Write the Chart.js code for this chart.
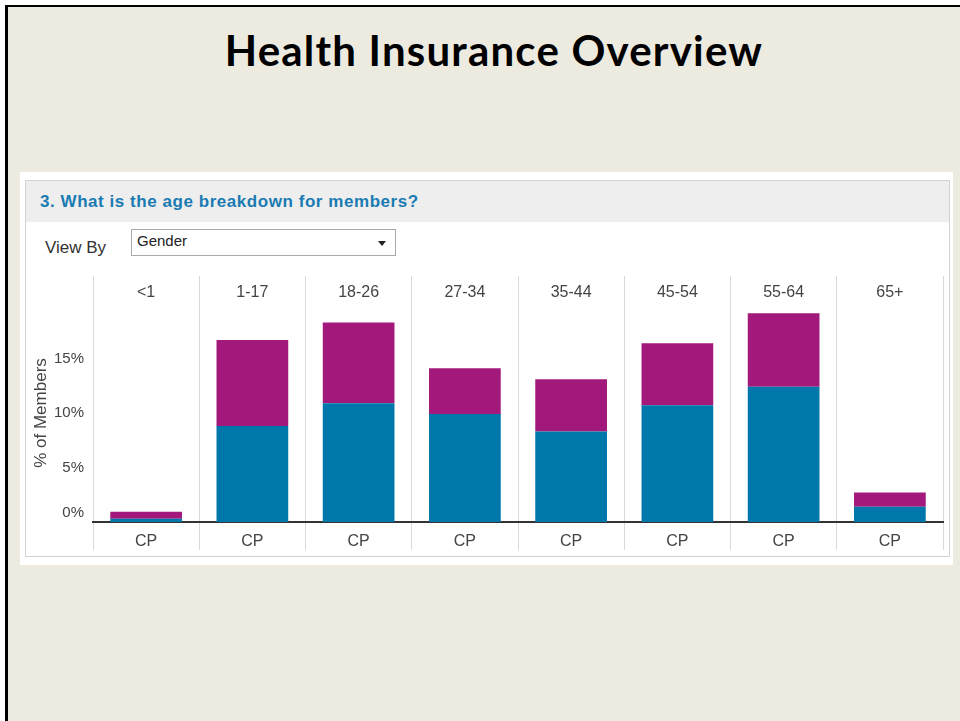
<!DOCTYPE html>
<html>
<head>
<meta charset="utf-8">
<title>Health Insurance Overview</title>
<script src="https://cdn.jsdelivr.net/npm/chart.js@4.4.1/dist/chart.umd.min.js"></script>
<style>
  html, body { margin: 0; padding: 0; width: 960px; height: 721px; overflow: hidden; background: #fff; }
  .slide { position: absolute; left: 5px; top: 5px; width: 1000px; height: 800px; background: #edeae0;
    border-left: 3px solid #000; border-top: 2px solid #000; }
  .title { position: absolute; left: 0; top: 29px; width: 988px; text-align: center;
    font: bold 42px Lato, "Open Sans", sans-serif; line-height: 42px; letter-spacing: 1.2px; color: #000; }
  .panel { position: absolute; left: 20px; top: 172px; width: 933px; height: 393px; background: #fff; }
  .box { position: absolute; left: 25px; top: 180px; width: 923px; height: 375px; border: 1px solid #d2d2d2; }
  .header { position: absolute; left: 26px; top: 181px; width: 923px; height: 41px; background: #eeeeee; }
  .question { position: absolute; left: 40px; top: 181px; height: 42px;
    font: bold 17px "Liberation Sans", Arial, sans-serif; line-height: 42px; letter-spacing: 0.55px;
    color: #1a7bb3; white-space: nowrap; }
  .viewby { position: absolute; left: 45px; top: 238px;
    font: 17px "Liberation Sans", Arial, sans-serif; line-height: 20px; color: #333; }
  .select { position: absolute; left: 131px; top: 229px; width: 263px; height: 25px; border: 1px solid #a9a9a9; background: #fff; }
  .select span { position: absolute; left: 5px; top: 1px;
    font: 15px "Liberation Sans", Arial, sans-serif; line-height: 20px; color: #222; }
  .select i { position: absolute; left: 246px; top: 11px; width: 0; height: 0;
    border-left: 4px solid transparent; border-right: 4px solid transparent; border-top: 5px solid #222; }
  .chart-wrap { position: absolute; left: 30px; top: 276px; width: 918px; height: 274px; }
</style>
</head>
<body>
<div class="slide"></div>
<div class="title">Health Insurance Overview</div>
<div class="panel"></div>
<div class="box"></div>
<div class="header"></div>
<div class="question">3. What is the age breakdown for members?</div>
<div class="viewby">View By</div>
<div class="select"><span>Gender</span><i></i></div>
<div class="chart-wrap"><canvas id="ageChart"></canvas></div>

<script>
// Data chart (persen anggota per kelompok umur)
const ageGroups = ["<1", "1-17", "18-26", "27-34", "35-44", "45-54", "55-64", "65+"];
const planLabels = ["CP", "CP", "CP", "CP", "CP", "CP", "CP", "CP"];
const maleShare = [0.3, 8.8, 10.9, 9.9, 8.3, 10.7, 12.4, 1.4];
const femaleShare = [0.65, 7.9, 7.4, 4.2, 4.8, 5.7, 6.75, 1.3];
const yTickValues = [0, 5, 10, 15];

Chart.defaults.font.family = "'Liberation Sans', Arial, sans-serif";
Chart.defaults.color = "#444";

const separatorColor = "#d9d9d9";

// Label 0% dinaikkan sedikit supaya tidak menempel garis dasar (baris kosong kedua)
function formatPercentTick(value) {
  return value === 0 ? ["0%", ""] : value + "%";
}

//! Chart umur (stacked bar)
const ageChart = new Chart(document.getElementById("ageChart").getContext("2d"), {
  type: "bar",
  data: {
    labels: ageGroups,
    datasets: [
      {
        label: "Male",
        data: maleShare,
        backgroundColor: "#0077aa",
        barPercentage: 0.675,
        categoryPercentage: 1,
      },
      {
        label: "Female",
        data: femaleShare,
        backgroundColor: "#a3197b",
        barPercentage: 0.675,
        categoryPercentage: 1,
      },
    ],
  },
  options: {
    responsive: true,
    maintainAspectRatio: false,
    animation: false,
    layout: { padding: { right: 5 } },
    plugins: {
      legend: { display: false },
      tooltip: { enabled: false },
    },
    scales: {
      x: {
        type: "category",
        position: "bottom",
        stacked: true,
        labels: planLabels,
        offset: true,
        grid: { offset: true, color: separatorColor, lineWidth: 1, tickLength: 28 },
        border: { display: true, color: "#333", width: 2 },
        ticks: { font: { size: 16 }, padding: -17.6, autoSkip: false, maxRotation: 0 },
        afterFit: (scale) => { scale.height = 28; },
      },
      x2: {
        type: "category",
        position: "top",
        labels: ageGroups,
        offset: true,
        grid: { offset: true, drawOnChartArea: false, color: separatorColor, lineWidth: 1, tickLength: 28 },
        border: { display: false },
        ticks: { font: { size: 16 }, padding: -26, autoSkip: false, maxRotation: 0 },
        afterFit: (scale) => { scale.height = 28; },
      },
      y: {
        stacked: true,
        min: 0,
        max: 20,
        grid: { display: false, drawTicks: false },
        border: { display: false },
        afterBuildTicks: (scale) => {
          scale.ticks = yTickValues.map((v) => ({ value: v }));
        },
        ticks: { font: { size: 15 }, padding: 9, callback: formatPercentTick },
        title: { display: true, text: "% of Members", font: { size: 17 }, padding: { top: 1, bottom: 0 } },
        afterFit: (scale) => { scale.width = 63; },
      },
    },
  },
});
</script>
</body>
</html>
